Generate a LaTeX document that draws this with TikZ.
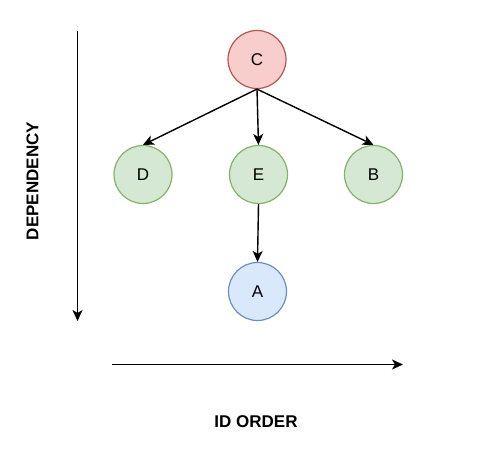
\documentclass[tikz,border=0pt]{standalone}
\usepackage{fontspec}
\setmainfont{Liberation Sans}
\usetikzlibrary{arrows.meta}
\definecolor{redfill}{HTML}{F8CECC}
\definecolor{redline}{HTML}{B85450}
\definecolor{greenfill}{HTML}{D5E8D4}
\definecolor{greenline}{HTML}{82B366}
\definecolor{bluefill}{HTML}{DAE8FC}
\definecolor{blueline}{HTML}{6C8EBF}
\begin{document}
\begin{tikzpicture}[x=1pt,y=-1pt,
  vert/.style={circle, minimum size=58pt, inner sep=0pt, line width=1.2pt,
    font=\fontsize{17}{20}\selectfont},
  redv/.style={vert, fill=redfill, draw=redline},
  greenv/.style={vert, fill=greenfill, draw=greenline},
  bluev/.style={vert, fill=bluefill, draw=blueline},
  arr/.style={line width=1.4pt, -{Stealth[length=11pt,width=10pt,inset=3pt]}},
  axislabel/.style={font=\bfseries\fontsize{17}{20}\selectfont}]
\useasboundingbox (0,0) rectangle (504,475);
\node[redv] (C) at (257,59.5) {C};
\node[greenv] (D) at (143,174.5) {D};
\node[greenv] (E) at (258.5,174.5) {E};
\node[greenv] (B) at (373.5,174.5) {B};
\node[bluev] (A) at (257.5,291.5) {A};
\draw[arr] (C.south) -- (D.north);
\draw[arr] (C.south) -- (E.north);
\draw[arr] (C.south) -- (B.north);
\draw[arr] (E.south) -- (A.north);
\coordinate (v1) at (77.5,31);
\coordinate (v2) at (77.5,321);
\coordinate (h1) at (112,364.5);
\coordinate (h2) at (403,364.5);
\draw[arr] (v1) -- (v2);
\draw[arr] (h1) -- (h2);
\node[axislabel, rotate=90] (dep) at (32.5,181) {DEPENDENCY};
\node[axislabel] (ido) at (256,422) {ID ORDER};
\end{tikzpicture}
\end{document}
